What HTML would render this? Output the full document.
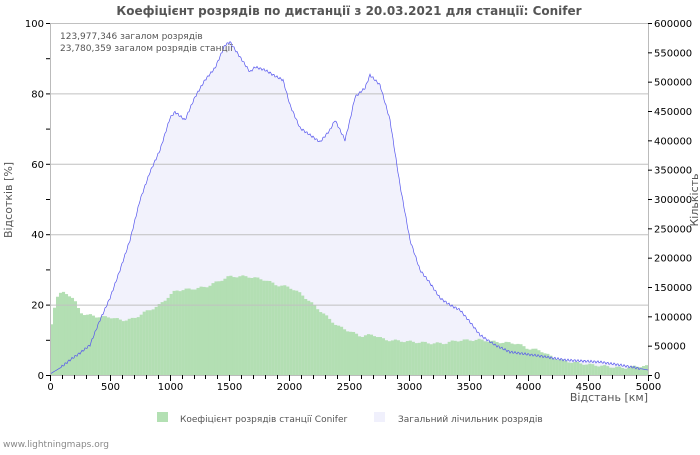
<!DOCTYPE html>
<html><head><meta charset="utf-8"><style>
body{margin:0;background:#fff}
svg text{font-family:"DejaVu Sans","Liberation Sans",sans-serif}
</style></head><body>
<svg id="s" width="700" height="450" xmlns="http://www.w3.org/2000/svg">
<rect width="700" height="450" fill="#fff"/>
<text x="349" y="15" font-size="12" font-weight="bold" fill="#555" text-anchor="middle">Коефіцієнт розрядів по дистанції з 20.03.2021 для станції: Conifer</text>
<rect x="50" y="23" width="598" height="352" fill="#fff"/>
<g id="area"></g>
<g id="bars"></g>
<g id="grid" stroke="#c0c0c0" stroke-width="1"></g>
<g id="line"></g>
<line x1="50.5" y1="23" x2="50.5" y2="375" stroke="#bbb"/>
<line x1="648.5" y1="23" x2="648.5" y2="375" stroke="#bbb"/>
<line x1="50" y1="375.5" x2="648" y2="375.5" stroke="#bbb"/>
<g id="ax" font-size="10" fill="#000"></g>
<text x="60" y="39" font-size="9" fill="#555">123,977,346 загалом розрядів</text>
<text x="60" y="51" font-size="9" fill="#555">23,780,359 загалом розрядів станції</text>
<text x="12" y="200" font-size="11" fill="#555" transform="rotate(-90 12 200)" text-anchor="middle">Відсотків   [%]</text>
<text x="698" y="200" font-size="11" fill="#555" transform="rotate(-90 698 200)" text-anchor="middle">Кількість</text>
<text x="648" y="401" font-size="11" fill="#555" text-anchor="end">Відстань   [км]</text>
<rect x="157" y="412" width="11" height="10" fill="#b3e0b3"/>
<text x="180" y="422" font-size="9" fill="#555">Коефіцієнт розрядів станції Conifer</text>
<rect x="374" y="412" width="11" height="10" fill="#f0f0fc"/>
<text x="398" y="422" font-size="9" fill="#555">Загальний лічильник розрядів</text>
<text x="3" y="447" font-size="9" fill="#888">www.lightningmaps.org</text>
</svg>
<script>
const NS="http://www.w3.org/2000/svg";
function el(t,a,p){const e=document.createElementNS(NS,t);for(const k in a)e.setAttribute(k,a[k]);document.getElementById(p).appendChild(e);return e;}
const X=k=>50+k*598/5000, Y=v=>375-v*3.52;
const g=[[0,12],[25,17],[50,22],[100,23.5],[150,23],[200,21.5],[250,18],[300,17],[350,17],[400,16.5],[500,16.5],[600,15.5],[700,16],[800,18],[900,19.5],[1000,22.5],[1050,24],[1200,24.5],[1300,25],[1400,26.5],[1500,28],[1650,28],[1800,27],[1900,25.5],[2000,25],[2100,23],[2200,20],[2300,17],[2400,14],[2500,12.5],[2600,11],[2700,11.5],[2800,10],[3000,9.5],[3200,9],[3300,9],[3400,9.8],[3600,10],[3700,9.5],[3800,9.2],[3900,9],[4000,7.5],[4100,7],[4200,5],[4300,4],[4500,3],[4700,2.3],[4800,2],[4900,2.5],[5000,2.5]];
function interp(k){for(let i=1;i<g.length;i++){if(k<=g[i][0]){const a=g[i-1],b=g[i];return a[1]+(b[1]-a[1])*(k-a[0])/(b[0]-a[0]);}}return 2.5;}
for(let k=0;k<5000;k+=25){const v=interp(k+12)+Math.sin(k*0.7)*0.3;el("rect",{x:X(k),y:Y(v),width:3.1,height:v*3.52,fill:"#b3dfb3"},"bars");}
[20,40,60,80,100].forEach(v=>el("line",{x1:50,x2:648,y1:Y(v)+.5,y2:Y(v)+.5},"grid"));
const p=[[50,374],[60,368],[70,360],[80,353],[90,345],[100,320],[110,298],[120,270],[130,240],[140,200],[150,172],[160,150],[170,118],[175,112],[185,120],[195,97],[205,80],[215,68],[225,45],[230,42],[240,57],[250,72],[255,67],[265,70],[275,76],[283,80],[290,105],[300,128],[310,135],[320,142],[330,130],[335,120],[345,140],[350,120],[355,97],[365,88],[370,75],[380,85],[390,120],[400,185],[410,240],[420,270],[430,283],[440,298],[450,305],[460,310],[470,322],[480,335],[495,345],[510,352],[540,356],[565,360],[600,362],[620,365],[648,370]];
const pts=[];for(let i=1;i<p.length;i++){const a=p[i-1],b=p[i];for(let x=a[0];x<b[0];x++){const t=(x-a[0])/(b[0]-a[0]);let y=a[1]+(b[1]-a[1])*t;if(x>60&&x<640)y+=Math.sin(x*1.9)*1.2;pts.push([x,y]);}}pts.push([648,370]);
const d=pts.map(q=>q[0]+","+q[1].toFixed(1)).join(" ");
el("polygon",{points:"50,375 "+d+" 648,375",fill:"#f2f2fc"},"area");
el("polyline",{points:d,fill:"none",stroke:"#5555ee","stroke-width":0.7},"line");
for(let v=0;v<=100;v+=10){el("line",{x1:46,x2:50,y1:Y(v)+.5,y2:Y(v)+.5,stroke:"#000"},"ax");if(v%20==0){const t=el("text",{x:44,y:Y(v)+4,"text-anchor":"end"},"ax");t.textContent=v;}}
for(let n=0;n<=600000;n+=50000){const y=375-n*352/600000;el("line",{x1:648,x2:652,y1:y+.5,y2:y+.5,stroke:"#000"},"ax");const t=el("text",{x:654,y:y+4},"ax");t.textContent=n;}
for(let k=0;k<=5000;k+=100){const x=Math.round(X(k))+.5;el("line",{x1:x,x2:x,y1:375,y2:k%500==0?381:379,stroke:"#000"},"ax");if(k%500==0){const t=el("text",{x:x,y:390,"text-anchor":"middle"},"ax");t.textContent=k;}}
</script>
</body></html>
